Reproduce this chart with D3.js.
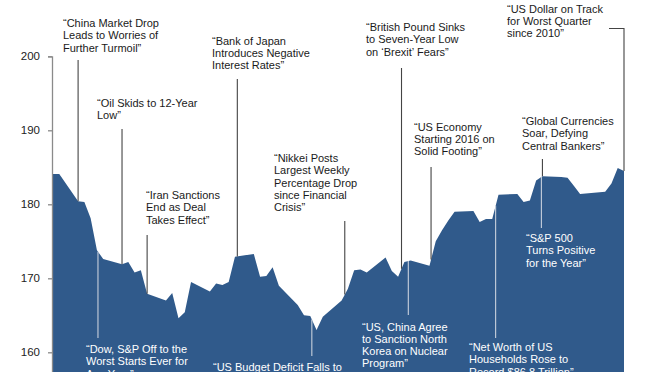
<!DOCTYPE html>
<html>
<head>
<meta charset="utf-8">
<script src="https://cdn.jsdelivr.net/npm/d3@7"></script>
<style>
  html, body { margin: 0; padding: 0; background: #fff; }
  svg { display: block; font-family: "Liberation Sans", Arial, sans-serif; }
</style>
</head>
<body>
<svg width="672" height="372"></svg>
<script>
// daily series, Q1 2016
let dates = ["2015-12-31", "2016-01-01", "2016-01-04", "2016-01-05", "2016-01-06", "2016-01-07", "2016-01-08",
    "2016-01-11", "2016-01-12", "2016-01-13", "2016-01-14", "2016-01-15",
    "2016-01-18", "2016-01-19", "2016-01-20", "2016-01-21", "2016-01-22",
    "2016-01-25", "2016-01-26", "2016-01-27", "2016-01-28", "2016-01-29",
    "2016-02-01", "2016-02-02", "2016-02-03", "2016-02-04", "2016-02-05",
    "2016-02-08", "2016-02-09", "2016-02-10", "2016-02-11", "2016-02-12",
    "2016-02-15", "2016-02-16", "2016-02-17", "2016-02-18", "2016-02-19",
    "2016-02-22", "2016-02-23", "2016-02-24", "2016-02-25", "2016-02-26",
    "2016-02-29", "2016-03-01", "2016-03-02", "2016-03-03", "2016-03-04",
    "2016-03-07", "2016-03-08", "2016-03-09", "2016-03-10", "2016-03-11",
    "2016-03-14", "2016-03-15", "2016-03-16", "2016-03-17", "2016-03-18",
    "2016-03-21", "2016-03-22", "2016-03-23", "2016-03-24",
    "2016-03-28", "2016-03-29", "2016-03-30", "2016-03-31"];

let values = [184.1, 184.1, 180.4, 180.3, 178.1, 173.8, 172.6,
    171.9, 172.2, 170.8, 171.1, 167.9,
    167.0, 168.0, 164.6, 165.4, 169.5,
    168.2, 169.3, 169.1, 169.5, 172.9,
    173.3, 170.2, 170.3, 171.5, 169.0,
    166.4, 165.0, 164.9, 163.0, 164.8,
    167.0, 168.6, 171.1, 171.2, 170.8,
    172.8, 171.0, 170.2, 172.2, 172.4,
    171.7, 175.0, 176.5, 177.8, 179.0,
    179.1, 177.6, 178.0, 178.0, 181.3,
    181.4, 180.3, 180.5, 183.2, 183.8,
    183.7, 183.6, 182.5, 181.4,
    181.7, 182.8, 184.9, 184.5];

let yTicks = [160, 170, 180, 190, 200];

// headlines above the curve
let topNotes = [
    ["“China Market Drop", "Leads to Worries of", "Further Turmoil”"],
    ["“Oil Skids to 12-Year", "Low”"],
    ["“Iran Sanctions", "End as Deal", "Takes Effect”"],
    ["“Bank of Japan", "Introduces Negative", "Interest Rates”"],
    ["“Nikkei Posts", "Largest Weekly", "Percentage Drop", "since Financial", "Crisis”"],
    ["“British Pound Sinks", "to Seven-Year Low", "on ‘Brexit’ Fears”"],
    ["“US Economy", "Starting 2016 on", "Solid Footing”"],
    ["“Global Currencies", "Soar, Defying", "Central Bankers”"],
    ["“US Dollar on Track", "for Worst Quarter", "since 2010”"]
];
let topDates = ["2016-01-04", "2016-01-11", "2016-01-15", "2016-01-29T09:00", "2016-02-15T12:00",
    "2016-02-24T13:00", "2016-02-29T06:00", "2016-03-18", "2016-03-31"];

// headlines inside the area
let bottomNotes = [
    ["“Dow, S&P Off to the", "Worst Starts Ever for", "Any Year”"],
    ["“US Budget Deficit Falls to", "Lowest Level Since 2007”"],
    ["“US, China Agree", "to Sanction North", "Korea on Nuclear", "Program”"],
    ["“Net Worth of US", "Households Rose to", "Record $86.8 Trillion”"],
    ["“S&P 500", "Turns Positive", "for the Year”"]
];
let bottomDates = ["2016-01-07T04:00", "2016-02-10T06:00", "2016-02-25T15:00", "2016-03-10T13:00", "2016-03-17T20:00"];

// label layout (pixels): text left, first baseline, leader end
let topLayout = [
    {tx: 63, ty: 27, ly: 60},
    {tx: 97, ty: 107, ly: 129},
    {tx: 146, ty: 199, ly: 235},
    {tx: 212, ty: 44.5, ly: 79},
    {tx: 274, ty: 162, ly: 221},
    {tx: 366, ty: 31, ly: 68},
    {tx: 414, ty: 130.5, ly: 167},
    {tx: 522, ty: 125, ly: 159},
    {tx: 507, ty: 12.5, ly: 28.5, elbow: 609}
];
let bottomLayout = [
    {tx: 86, ty: 353, ly: 338},
    {tx: 213, ty: 370.5, ly: 356},
    {tx: 362, ty: 330.5, ly: 315},
    {tx: 469, ty: 351, ly: 338},
    {tx: 526, ty: 242, ly: 228}
];

let parse = d3.isoParse;
let data = dates.map(function (d, i) {
    return {date: parse(d), value: values[i]};
});

let svg = d3.select("svg"),
    lineH = 12.3;

let x = d3.scaleTime()
    .domain([parse("2015-12-31"), parse("2016-03-31")])
    .range([53, 624]);

let y = d3.scaleLinear()
    .domain([150, 200])
    .range([426.3, 56.3]);

// value of the curve at any date, for leader ends
let bisect = d3.bisector(function (d) { return d.date; }).left;
function valueAt(t) {
    let i = bisect(data, t);
    if (i <= 0) return data[0].value;
    if (i >= data.length) return data[data.length - 1].value;
    let a = data[i - 1], b = data[i];
    let k = (t - a.date) / (b.date - a.date);
    return a.value + k * (b.value - a.value);
}

let area = d3.area()
    .x(function (d) { return x(d.date); })
    .y0(y(150))
    .y1(function (d) { return y(d.value); });

svg.append("path")
    .datum(data)
    .attr("fill", "#305a8b")
    .attr("d", area);

// y axis
let yAxis = svg.append("g")
    .attr("transform", "translate(52,0)")
    .call(d3.axisLeft(y).tickValues(yTicks).tickSize(4).tickPadding(8).tickFormat(d3.format("d")));
yAxis.select(".domain").attr("stroke", "#8a8a8a").attr("stroke-width", 1.3);
yAxis.selectAll(".tick line").attr("stroke", "#8a8a8a").attr("stroke-width", 1.3);
yAxis.selectAll(".tick text")
    .attr("fill", "#222")
    .attr("font-size", 11.5)
    .attr("font-family", "\"Liberation Sans\", Arial, sans-serif");

// leaders above
topNotes.forEach(function (lines, i) {
    let L = topLayout[i],
        t = parse(topDates[i]),
        lx = x(t),
        vy = y(valueAt(t));
    if (L.elbow) {
        svg.append("path")
            .attr("d", "M" + L.elbow + "," + L.ly + "H" + lx + "V" + vy)
            .attr("fill", "none")
            .attr("stroke", "#444")
            .attr("stroke-width", 1.1);
    } else {
        svg.append("line")
            .attr("x1", lx).attr("x2", lx)
            .attr("y1", L.ly).attr("y2", vy)
            .attr("stroke", "#444")
            .attr("stroke-width", 1.1);
    }
    let txt = svg.append("text")
        .attr("x", L.tx)
        .attr("y", L.ty)
        .attr("font-size", 11)
        .attr("fill", "#1a1a1a");
    txt.selectAll("tspan")
        .data(lines)
        .enter().append("tspan")
        .attr("x", L.tx)
        .attr("y", function (d, j) { return L.ty + j * lineH; })
        .text(function (d) { return d; });
});

// leaders inside the area
bottomNotes.forEach(function (lines, i) {
    let L = bottomLayout[i],
        t = parse(bottomDates[i]),
        lx = x(t),
        vy = y(valueAt(t));
    svg.append("line")
        .attr("x1", lx).attr("x2", lx)
        .attr("y1", vy).attr("y2", L.ly)
        .attr("stroke", "#c9d1dd")
        .attr("stroke-width", 1.1);
    let txt = svg.append("text")
        .attr("x", L.tx)
        .attr("y", L.ty)
        .attr("font-size", 11)
        .attr("fill", "#ffffff");
    txt.selectAll("tspan")
        .data(lines)
        .enter().append("tspan")
        .attr("x", L.tx)
        .attr("y", function (d, j) { return L.ty + j * lineH; })
        .text(function (d) { return d; });
});
</script>
</body>
</html>
